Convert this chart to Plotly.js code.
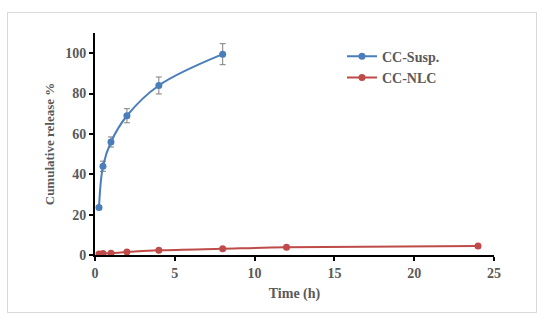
<!DOCTYPE html>
<html><head><meta charset="utf-8">
<script src="https://cdn.plot.ly/plotly-3.0.1.min.js"></script>
<style>html,body{margin:0;padding:0;background:#fff}#chart{width:550px;height:323px}
#frame{position:absolute;left:7px;top:12px;width:528px;height:299px;border:1px solid #d9d9d9;pointer-events:none}</style>
</head><body><div id="chart"></div><div id="frame"></div>
<script>
const suspTime = [0.25, 0.5, 1, 2, 4, 8];
const suspRelease = [23.5, 44, 56, 69, 84, 99.5];
const suspError = [1.0, 2.5, 2.5, 3.5, 4.2, 5.2];
const nlcTime = [0.25, 0.5, 1, 2, 4, 8, 12, 24];
const nlcRelease = [0.5, 0.8, 0.9, 1.5, 2.3, 3.1, 3.8, 4.4];

const fam = '"Liberation Serif", "Times New Roman", serif';
const grey = '#595959';

const traces = [
  {x: suspTime, y: suspRelease, name: 'CC-Susp.', mode: 'lines+markers',
   line: {color: '#4a7ebb', width: 2, shape: 'spline'}, marker: {color: '#4a7ebb', size: 7},
   error_y: {type: 'data', array: suspError, visible: true, color: '#7f7f7f', thickness: 1, width: 3}},
  {x: nlcTime, y: nlcRelease, name: 'CC-NLC', mode: 'lines+markers',
   line: {color: '#be4b48', width: 2, shape: 'spline'}, marker: {color: '#be4b48', size: 7}}
];

const layout = {
  width: 550, height: 323,
  margin: {l: 95, r: 56, t: 33, b: 68},
  paper_bgcolor: '#fff', plot_bgcolor: '#fff',
  font: {family: fam, color: grey, size: 14, weight: 'bold'},
  showlegend: true,
  legend: {x: 0.619, y: 0.965, xanchor: 'left', yanchor: 'top', bgcolor: 'rgba(0,0,0,0)',
    font: {family: fam, color: grey, size: 14, weight: 'bold'}, itemwidth: 30},
  xaxis: {range: [0, 25], dtick: 5, showgrid: false, zeroline: false, showline: true, linecolor: '#000', linewidth: 2,
    ticks: 'outside', ticklen: 4, tickwidth: 2, tickcolor: '#000',
    tickfont: {family: fam, color: grey, size: 14, weight: 'bold'},
    title: {text: 'Time (h)', font: {family: fam, color: grey, size: 14, weight: 'bold'}, standoff: 8}},
  yaxis: {range: [0, 110], tickvals: [0, 20, 40, 60, 80, 100], showgrid: false, zeroline: false, showline: true, linecolor: '#000', linewidth: 2,
    ticks: 'outside', ticklen: 4, tickwidth: 2, tickcolor: '#000',
    tickfont: {family: fam, color: grey, size: 14, weight: 'bold'},
    title: {text: 'Cumulative release %', font: {family: fam, color: grey, size: 13, weight: 'bold'}, standoff: 8}}
};
Plotly.newPlot('chart', traces, layout, {displayModeBar: false, staticPlot: true});
</script></body></html>
